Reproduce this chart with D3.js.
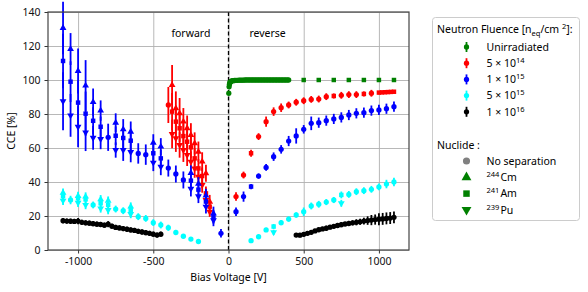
<!DOCTYPE html>
<html>
<head>
<meta charset="utf-8">
<script src="https://cdn.jsdelivr.net/npm/d3@7"></script>
<style>
  body { margin: 0; background: #fff; }
  text { font-family: "Noto Sans", "Open Sans", sans-serif; }
</style>
</head>
<body>
<svg id="chart" width="588" height="292"></svg>
<script>
// rows: [bias voltage (V), CCE (%), error (%), nuclide]
// nuclide: "all" = no separation, "Cm" = 244Cm, "Am" = 241Am, "Pu" = 239Pu
var unirradiated = [
  [2, 92.2, 0.6, "all"], [4, 96.0, 0.6, "all"], [6, 97.4, 0.5, "all"], [8, 98.2, 0.5, "all"],
  [10, 98.7, 0.5, "all"], [15, 99.1, 0.5, "all"], [20, 99.4, 0.5, "all"], [25, 99.5, 0.5, "all"],
  [30, 99.6, 0.5, "all"], [40, 99.7, 0.5, "all"], [50, 99.8, 0.5, "all"], [60, 99.8, 0.5, "all"],
  [70, 99.9, 0.5, "all"], [80, 99.9, 0.5, "all"], [90, 99.9, 0.5, "all"], [100, 99.9, 0.5, "all"],
  [110, 100, 0.5, "all"], [120, 100, 0.5, "all"], [130, 100, 0.5, "all"], [140, 100, 0.5, "all"],
  [150, 100, 0.5, "all"], [160, 100, 0.5, "all"], [170, 100, 0.5, "all"], [180, 100, 0.5, "all"],
  [190, 100, 0.5, "all"], [200, 100, 0.5, "all"], [210, 100, 0.5, "all"], [220, 100, 0.5, "all"],
  [230, 100, 0.5, "all"], [240, 100, 0.5, "all"], [250, 100, 0.5, "all"], [260, 100, 0.5, "all"],
  [270, 100, 0.5, "all"], [280, 100, 0.5, "all"], [290, 100, 0.5, "all"], [300, 100, 0.5, "all"],
  [310, 100, 0.5, "all"], [320, 100, 0.5, "all"], [330, 100, 0.5, "all"], [340, 100, 0.5, "all"],
  [350, 100, 0.5, "all"], [360, 100, 0.5, "all"], [370, 100, 0.5, "all"], [380, 100, 0.5, "all"],
  [390, 100, 0.5, "all"], [400, 100, 0.5, "all"],
  [500, 100, 0.6, "Am"], [600, 100, 0.6, "Am"], [700, 100, 0.6, "Am"], [800, 100, 0.6, "Am"],
  [900, 100, 0.6, "Am"], [1000, 100, 0.6, "Am"], [1100, 100, 0.6, "Am"]
];

var fluence5e14 = [
  [-400, 85.3, 10.6, "all"],
  [-375, 97.0, 11.8, "Cm"], [-375, 81.4, 11.0, "Am"], [-375, 68.2, 8.4, "Pu"],
  [-350, 83.3, 10.0, "Cm"], [-350, 75.5, 9.0, "Am"], [-350, 65.7, 8.0, "Pu"],
  [-325, 80.4, 9.0, "Cm"], [-325, 71.6, 8.0, "Am"], [-325, 61.8, 7.5, "Pu"],
  [-300, 75.5, 8.0, "Cm"], [-300, 67.0, 7.5, "Am"], [-300, 58.8, 7.0, "Pu"],
  [-275, 71.6, 7.5, "Cm"], [-275, 63.7, 7.0, "Am"], [-275, 55.9, 6.5, "Pu"],
  [-250, 67.6, 7.0, "Cm"], [-250, 60.4, 6.5, "Am"], [-250, 52.0, 6.0, "Pu"],
  [-225, 62.7, 6.5, "Cm"], [-225, 53.9, 6.0, "Am"], [-225, 48.0, 5.5, "Pu"],
  [-200, 57.8, 6.0, "Cm"], [-200, 48.0, 5.5, "Am"], [-200, 43.1, 5.0, "Pu"],
  [-175, 52.0, 5.5, "Cm"], [-175, 43.5, 5.0, "Am"], [-175, 38.2, 4.5, "Pu"],
  [-150, 45.1, 5.0, "Cm"], [-150, 33.3, 4.0, "Am"], [-150, 29.4, 4.0, "Pu"],
  [-125, 28.4, 4.0, "Cm"], [-125, 25.5, 3.5, "Am"], [-125, 22.5, 3.0, "Pu"],
  [50, 31.4, 2.5, "all"], [100, 44.1, 2.0, "all"], [150, 56.9, 2.0, "Am"], [200, 66.7, 2.0, "all"],
  [250, 75.5, 3.0, "all"], [300, 81.4, 2.5, "all"], [350, 83.7, 2.5, "all"], [400, 85.3, 2.0, "all"],
  [450, 86.9, 2.0, "all"], [500, 87.8, 2.0, "all"], [550, 88.6, 2.0, "all"], [600, 88.8, 2.0, "all"],
  [650, 90.2, 2.0, "all"], [700, 90.6, 1.5, "Am"], [750, 91.0, 2.0, "all"], [800, 91.4, 2.0, "all"],
  [850, 91.4, 2.0, "all"], [900, 91.8, 1.5, "Am"], [950, 92.2, 2.0, "all"], [1000, 92.6, 1.0, "Am"],
  [1020, 92.7, 1.0, "Am"], [1040, 92.8, 1.0, "Am"], [1060, 92.9, 1.0, "Am"], [1080, 93.0, 1.0, "Am"],
  [1100, 93.1, 1.0, "Am"]
];

var fluence1e15 = [
  [-1100, 130.6, 15.4, "Cm"], [-1100, 111.2, 16.0, "Am"], [-1100, 87.5, 17.0, "Pu"],
  [-1050, 118.2, 9.4, "Cm"], [-1050, 99.0, 12.0, "Am"], [-1050, 79.2, 12.6, "Pu"],
  [-1000, 105.3, 13.3, "Cm"], [-1000, 86.7, 13.0, "Am"], [-1000, 72.5, 12.0, "Pu"],
  [-950, 96.7, 15.0, "Cm"], [-950, 80.2, 13.0, "Am"], [-950, 69.2, 11.0, "Pu"],
  [-900, 87.0, 8.0, "Cm"], [-900, 76.0, 8.0, "Am"], [-900, 66.0, 7.0, "Pu"],
  [-850, 82.0, 6.0, "Cm"], [-850, 72.5, 6.0, "Am"], [-850, 65.3, 6.0, "Pu"],
  [-800, 66.3, 8.0, "all"],
  [-750, 74.9, 5.5, "Cm"], [-750, 67.2, 5.5, "Am"], [-750, 58.8, 4.5, "Pu"],
  [-700, 71.0, 6.0, "Cm"], [-700, 65.9, 6.0, "Am"], [-700, 58.8, 6.4, "Pu"],
  [-650, 69.6, 6.0, "Cm"], [-650, 64.3, 6.0, "Am"], [-650, 57.6, 6.0, "Pu"],
  [-600, 56.8, 6.0, "all"], [-550, 56.1, 6.0, "all"],
  [-500, 63.1, 5.0, "Cm"], [-500, 56.9, 5.0, "Am"], [-500, 51.4, 5.0, "Pu"],
  [-450, 60.8, 5.0, "Cm"], [-450, 53.9, 5.0, "Am"], [-450, 49.0, 5.0, "Pu"],
  [-400, 48.2, 5.0, "all"], [-350, 44.7, 5.0, "all"], [-300, 41.2, 5.0, "all"],
  [-250, 45.3, 4.5, "Cm"], [-250, 40.8, 4.5, "Am"], [-250, 36.0, 4.5, "Pu"],
  [-200, 38.9, 4.0, "Cm"], [-200, 35.5, 4.0, "Am"], [-200, 31.6, 4.0, "Pu"],
  [-150, 32.0, 4.0, "Cm"], [-150, 28.5, 4.0, "Am"], [-150, 25.5, 4.0, "Pu"],
  [-100, 21.5, 4.0, "Cm"], [-100, 19.5, 4.0, "Am"], [-100, 17.5, 3.5, "Pu"],
  [-50, 9.8, 2.5, "all"],
  [50, 22.5, 2.5, "all"], [100, 31.4, 3.0, "all"], [150, 37.3, 1.5, "Am"], [200, 43.5, 1.5, "all"],
  [250, 48.6, 2.0, "all"], [300, 54.9, 2.5, "all"], [350, 59.2, 2.5, "all"], [400, 64.1, 3.0, "all"],
  [450, 67.1, 4.5, "all"], [500, 71.0, 2.5, "all"], [550, 74.5, 4.0, "all"], [600, 74.9, 3.0, "all"],
  [650, 76.1, 3.0, "all"], [700, 77.1, 3.0, "all"], [750, 78.0, 3.0, "all"], [800, 79.4, 3.0, "all"],
  [850, 80.4, 3.0, "all"], [900, 80.8, 3.0, "all"], [950, 82.0, 3.0, "all"], [1000, 82.4, 3.0, "all"],
  [1050, 83.1, 3.0, "all"], [1100, 84.3, 3.0, "all"]
];

var fluence5e15 = [
  [-1100, 33.7, 2.5, "Cm"], [-1100, 31.6, 2.5, "Am"], [-1100, 29.0, 2.5, "Pu"],
  [-1050, 29.4, 2.5, "all"],
  [-1000, 31.8, 2.5, "Cm"], [-1000, 30.4, 2.5, "Am"], [-1000, 27.8, 2.5, "Pu"],
  [-950, 31.4, 2.5, "Cm"], [-950, 29.8, 2.5, "Am"], [-950, 26.5, 2.5, "Pu"],
  [-900, 26.5, 2.0, "all"],
  [-850, 29.8, 2.5, "Cm"], [-850, 27.5, 2.5, "Am"], [-850, 24.5, 2.5, "Pu"],
  [-800, 29.0, 2.5, "Cm"], [-800, 26.5, 2.5, "Am"], [-800, 23.5, 2.5, "Pu"],
  [-750, 24.1, 2.0, "all"], [-700, 23.1, 2.0, "all"],
  [-650, 25.5, 2.5, "Cm"], [-650, 23.5, 2.5, "Am"], [-650, 21.2, 2.5, "Pu"],
  [-600, 19.6, 2.0, "all"], [-550, 18.6, 2.0, "all"], [-500, 16.1, 2.0, "all"],
  [-450, 14.7, 2.0, "all"], [-400, 13.1, 1.8, "all"], [-350, 10.3, 1.5, "all"],
  [-300, 8.1, 1.2, "all"], [-250, 6.4, 1.0, "all"], [-200, 5.0, 0.8, "all"],
  [150, 5.5, 0.8, "all"], [200, 7.8, 1.0, "all"], [250, 11.8, 1.2, "all"],
  [300, 13.8, 1.5, "Am"], [300, 10.4, 1.5, "Pu"],
  [350, 16.1, 1.5, "all"], [400, 18.2, 1.5, "all"], [450, 20.6, 1.5, "all"],
  [500, 22.5, 2.5, "all"], [550, 25.9, 2.0, "all"], [600, 26.9, 2.0, "all"],
  [650, 28.2, 1.8, "all"], [700, 29.4, 1.8, "all"],
  [750, 32.4, 2.0, "Am"], [750, 27.5, 2.0, "Pu"],
  [800, 32.7, 2.0, "all"], [850, 34.3, 2.0, "all"], [900, 34.9, 2.0, "all"],
  [950, 35.7, 2.0, "all"], [1000, 37.1, 2.0, "all"], [1050, 38.8, 2.5, "all"],
  [1100, 40.0, 2.5, "all"]
];

var fluence1e16 = [
  [-1100, 17.2, 1.5, "all"], [-1075, 17.0, 1.5, "all"], [-1050, 16.9, 1.5, "all"],
  [-1025, 16.8, 1.5, "all"], [-1000, 17.0, 1.8, "all"], [-975, 16.3, 1.5, "all"],
  [-950, 16.0, 1.5, "all"], [-925, 15.8, 1.5, "all"], [-900, 15.5, 1.5, "all"],
  [-875, 15.2, 1.5, "all"], [-850, 15.0, 1.5, "all"], [-825, 14.6, 1.5, "all"],
  [-800, 15.2, 1.8, "all"], [-775, 14.0, 1.5, "all"], [-750, 13.3, 1.5, "all"],
  [-725, 13.0, 1.5, "all"], [-700, 12.6, 1.5, "all"], [-675, 12.2, 1.5, "all"],
  [-650, 11.8, 1.5, "all"], [-625, 11.5, 1.5, "all"], [-600, 11.0, 1.5, "all"],
  [-575, 10.6, 1.5, "all"], [-550, 10.2, 1.5, "all"], [-525, 9.8, 1.5, "all"],
  [-500, 9.3, 1.5, "all"], [-475, 8.8, 1.5, "all"], [-450, 9.3, 1.5, "all"],
  [450, 8.8, 1.2, "all"], [475, 8.7, 1.2, "all"], [500, 9.2, 1.2, "all"],
  [525, 9.8, 1.2, "all"], [550, 10.4, 1.2, "all"], [575, 11.2, 1.2, "all"],
  [600, 11.9, 1.2, "all"], [625, 12.4, 1.2, "all"], [650, 12.8, 1.5, "all"],
  [675, 13.4, 1.2, "all"], [700, 13.9, 1.2, "all"], [725, 14.4, 1.2, "all"],
  [750, 14.9, 1.5, "all"], [775, 15.3, 1.2, "all"], [800, 15.6, 1.5, "all"],
  [825, 16.0, 1.5, "all"], [850, 16.3, 1.8, "all"], [875, 16.6, 1.8, "all"],
  [900, 17.0, 2.0, "all"], [925, 17.3, 2.5, "all"], [950, 17.6, 3.0, "all"],
  [975, 17.9, 3.0, "all"], [1000, 18.1, 3.5, "all"], [1025, 18.3, 3.5, "all"],
  [1050, 18.6, 3.5, "all"], [1075, 18.8, 3.5, "all"], [1100, 19.2, 3.5, "all"]
];

var seriesList = [unirradiated, fluence5e14, fluence1e15, fluence5e15, fluence1e16];
var fluenceLabels = [["Unirradiated"], ["5 × 10", "14"], ["1 × 10", "15"], ["5 × 10", "15"], ["1 × 10", "16"]];
var nuclideKeys = ["all", "Cm", "Am", "Pu"];
var nuclideLabels = [["", "No separation"], ["244", "Cm"], ["241", "Am"], ["239", "Pu"]];
var xTicks = [-1000, -500, 0, 500, 1000];
var yTicks = [0, 20, 40, 60, 80, 100, 120, 140];

var colors = ["green", "red", "blue", "cyan", "black"];

var svg = d3.select("#chart"),
  margin = {top: 12, right: 179, bottom: 42, left: 48},
  width = +svg.attr("width") - margin.left - margin.right,
  height = +svg.attr("height") - margin.top - margin.bottom;

var x = d3.scaleLinear().domain([-1200, 1200]).range([0, width]);
var y = d3.scaleLinear().domain([0, 140]).range([height, 0]);

var g = svg.append("g")
  .attr("transform", "translate(" + margin.left + "," + margin.top + ")");

// grid
g.append("g")
  .attr("transform", "translate(0," + height + ")")
  .call(d3.axisBottom(x).tickValues(xTicks).tickSize(-height).tickFormat(""))
  .call(function(s) { s.select(".domain").remove(); })
  .selectAll("line").attr("stroke", "#b0b0b0").attr("stroke-width", 0.9);
g.append("g")
  .call(d3.axisLeft(y).tickValues(yTicks).tickSize(-width).tickFormat(""))
  .call(function(s) { s.select(".domain").remove(); })
  .selectAll("line").attr("stroke", "#b0b0b0").attr("stroke-width", 0.9);

// forward / reverse separator
g.append("line")
  .attr("x1", x(0)).attr("x2", x(0))
  .attr("y1", 0).attr("y2", height)
  .attr("stroke", "#000").attr("stroke-width", 1.3)
  .attr("stroke-dasharray", "4,2.5");

function markerPath(nuc, size) {
  var type = nuc === "all" ? d3.symbolCircle : (nuc === "Am" ? d3.symbolSquare : d3.symbolTriangle);
  return d3.symbol().type(type).size(size)();
}
function markerSize(nuc) {
  return nuc === "all" ? 22 : (nuc === "Am" ? 20 : 20);
}

seriesList.forEach(function(series, i) {
  var sg = g.append("g");
  sg.selectAll("line.err")
    .data(series)
    .enter().append("line")
      .attr("class", "err")
      .attr("x1", function(d) { return x(d[0]); })
      .attr("x2", function(d) { return x(d[0]); })
      .attr("y1", function(d) { return y(d[1] - d[2]); })
      .attr("y2", function(d) { return y(d[1] + d[2]); })
      .attr("stroke", colors[i])
      .attr("stroke-width", 1.8);
  sg.selectAll("path.pt")
    .data(series)
    .enter().append("path")
      .attr("class", "pt")
      .attr("d", function(d) { return markerPath(d[3], markerSize(d[3])); })
      .attr("transform", function(d) {
        return "translate(" + x(d[0]) + "," + y(d[1]) + ")" + (d[3] === "Pu" ? " rotate(180)" : "");
      })
      .attr("fill", colors[i]);
});

// axes
var xAxis = g.append("g")
  .attr("transform", "translate(0," + height + ")")
  .call(d3.axisBottom(x).tickValues(xTicks).tickSize(3.5).tickPadding(4)
    .tickFormat(function(d) { return String(d); }));
var yAxis = g.append("g")
  .call(d3.axisLeft(y).tickValues(yTicks).tickSize(3.5).tickPadding(4)
    .tickFormat(function(d) { return String(d); }));
[xAxis, yAxis].forEach(function(a) {
  a.select(".domain").remove();
  a.selectAll("text").attr("font-size", 10.5).attr("fill", "#111")
    .attr("font-family", "\"Noto Sans\", sans-serif");
  a.selectAll("line").attr("stroke", "#333");
});

// frame
g.append("rect")
  .attr("width", width).attr("height", height)
  .attr("fill", "none").attr("stroke", "#444").attr("stroke-width", 1.2);

g.append("text")
  .attr("x", x(-250)).attr("y", 25)
  .attr("text-anchor", "middle").attr("font-size", 10.5)
  .text("forward");
g.append("text")
  .attr("x", x(260)).attr("y", 25)
  .attr("text-anchor", "middle").attr("font-size", 10.5)
  .text("reverse");

svg.append("text")
  .attr("x", margin.left + x(0)).attr("y", 281)
  .attr("text-anchor", "middle").attr("font-size", 10.5)
  .text("Bias Voltage [V]");
svg.append("text")
  .attr("transform", "translate(15," + (margin.top + height / 2) + ") rotate(-90)")
  .attr("text-anchor", "middle").attr("font-size", 10.5)
  .text("CCE [%]");

// legend
var lg = svg.append("g").attr("transform", "translate(432.5,17.5)");
lg.append("rect")
  .attr("width", 147).attr("height", 203).attr("rx", 3)
  .attr("fill", "#fff").attr("stroke", "#ccc").attr("stroke-width", 1);

var title = lg.append("text").attr("x", 4.5).attr("y", 15).attr("font-size", 10.5);
title.append("tspan").text("Neutron Fluence [n");
title.append("tspan").attr("dy", 3).attr("font-size", 7.5).text("eq");
title.append("tspan").attr("dy", -3).text("/cm ");
title.append("tspan").attr("dy", -4).attr("font-size", 7.5).text("2");
title.append("tspan").attr("dy", 4).text("]:");

fluenceLabels.forEach(function(lab, i) {
  var ry = 29.5 + i * 16.2;
  lg.append("line")
    .attr("x1", 34).attr("x2", 34).attr("y1", ry - 5).attr("y2", ry + 5)
    .attr("stroke", colors[i]).attr("stroke-width", 1.8);
  lg.append("path")
    .attr("d", markerPath("all", 22))
    .attr("transform", "translate(34," + ry + ")")
    .attr("fill", colors[i]);
  var t = lg.append("text").attr("x", 54).attr("y", ry + 3.8).attr("font-size", 10.5);
  t.append("tspan").text(lab[0]);
  if (lab[1]) t.append("tspan").attr("dy", -4).attr("font-size", 7.5).text(lab[1]);
});

lg.append("text").attr("x", 4.5).attr("y", 131.5).attr("font-size", 10.5).text("Nuclide :");

nuclideKeys.forEach(function(k, i) {
  var ry = 143.5 + i * 16.3;
  lg.append("path")
    .attr("d", markerPath(k, k === "all" ? 40 : 42))
    .attr("transform", "translate(34," + ry + ")" + (k === "Pu" ? " rotate(180)" : ""))
    .attr("fill", k === "all" ? "#808080" : "green");
  var t = lg.append("text").attr("x", 54).attr("y", ry + 3.8).attr("font-size", 10.5);
  if (nuclideLabels[i][0]) {
    t.append("tspan").attr("dy", -4).attr("font-size", 7.5).text(nuclideLabels[i][0]);
    t.append("tspan").attr("dy", 4).attr("dx", 1).text(nuclideLabels[i][1]);
  } else {
    t.append("tspan").text(nuclideLabels[i][1]);
  }
});
</script>
</body>
</html>
